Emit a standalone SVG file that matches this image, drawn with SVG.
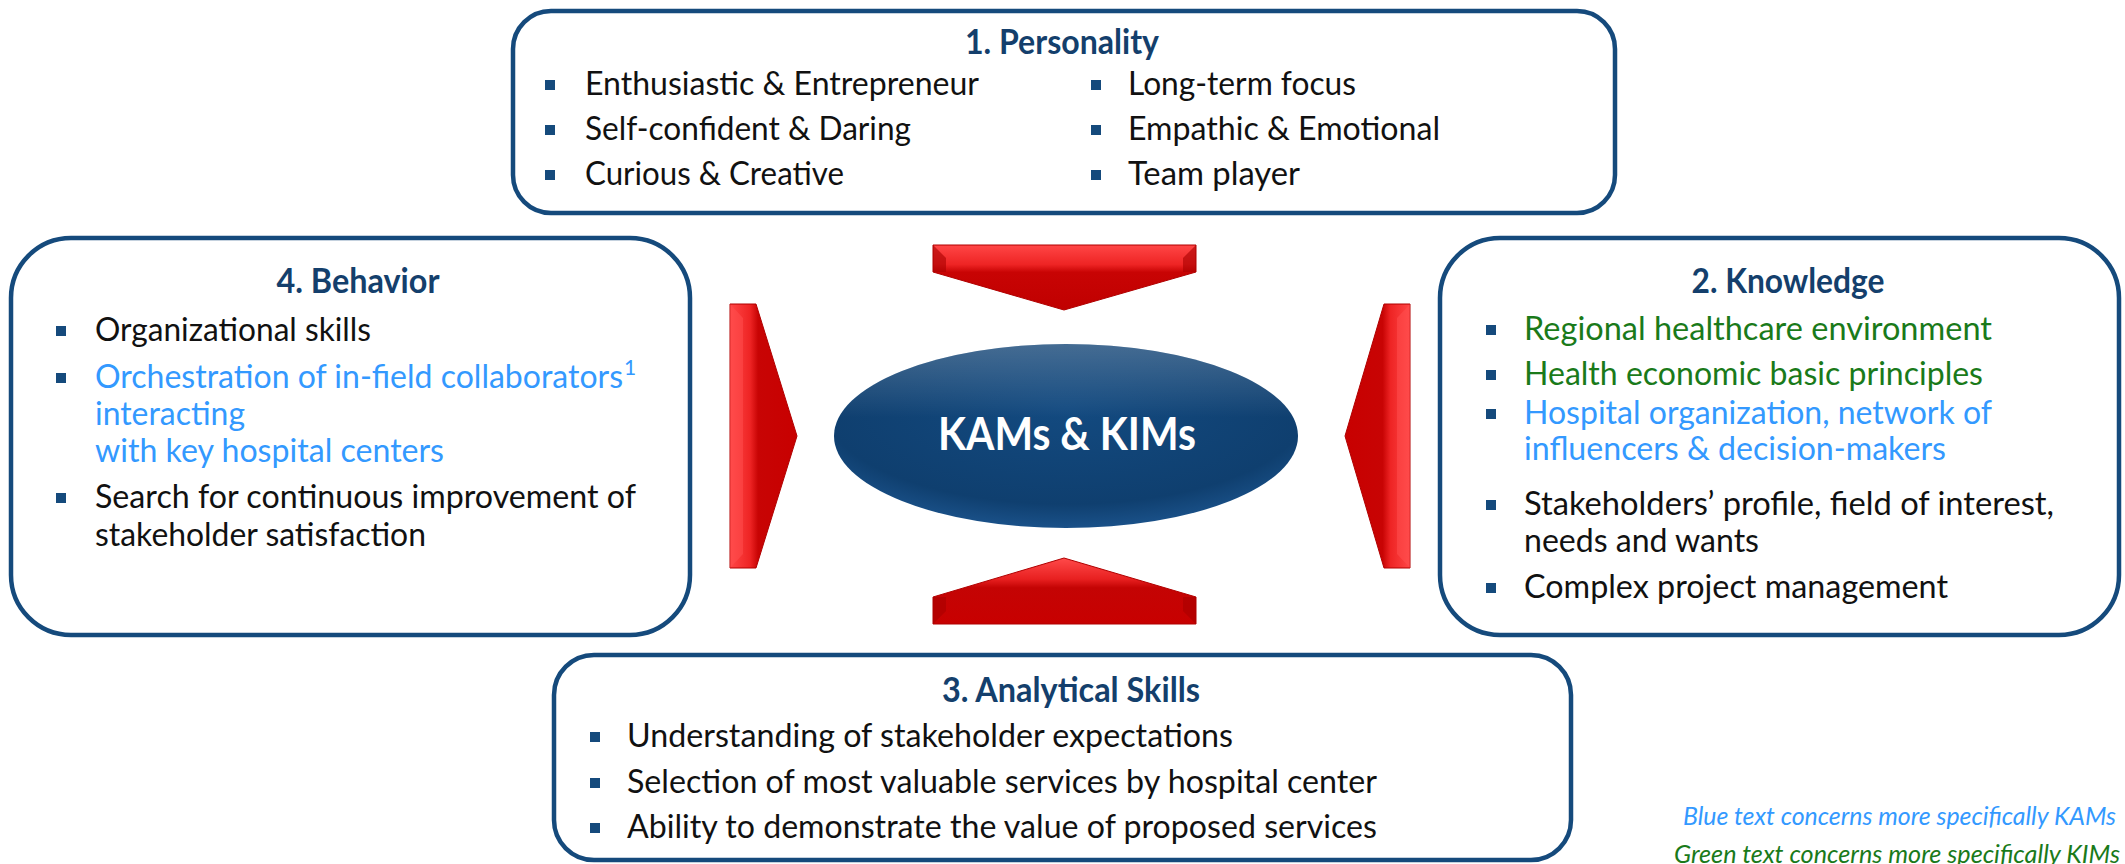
<svg xmlns="http://www.w3.org/2000/svg" width="2125" height="864" viewBox="0 0 2125 864">
<style>
.box{fill:#ffffff;stroke:#154A7C;stroke-width:4.5}
.title{font-family:Lato,"Liberation Sans",sans-serif;font-weight:bold;font-size:34px;fill:#143F6C;text-anchor:middle}
.t{font-family:Lato,"Liberation Sans",sans-serif;font-size:32px;fill:#111111}
.blue{fill:#3399FF}
.green{fill:#1A7A1A}
.bul{fill:#154A7C}
.sup{font-family:Lato,"Liberation Sans",sans-serif;font-size:21px;fill:#3399FF}
.note{font-family:Lato,"Liberation Sans",sans-serif;font-style:italic;font-size:25px}
.center{font-family:Lato,"Liberation Sans",sans-serif;font-weight:bold;font-size:45px;fill:#ffffff;text-anchor:middle}
</style>
<defs>
<linearGradient id="gDown" x1="0" y1="0" x2="0" y2="1">
<stop offset="0" stop-color="#FF4646"/>
<stop offset="0.3" stop-color="#EE2424"/>
<stop offset="0.42" stop-color="#C80404"/>
<stop offset="1" stop-color="#C00000"/>
</linearGradient>
<linearGradient id="gUp" x1="0" y1="1" x2="0" y2="0">
<stop offset="0" stop-color="#C80000"/>
<stop offset="0.55" stop-color="#C40404"/>
<stop offset="0.68" stop-color="#E82020"/>
<stop offset="1" stop-color="#FF4A4A"/>
</linearGradient>
<linearGradient id="gRight" x1="0" y1="0" x2="1" y2="0">
<stop offset="0" stop-color="#FF4646"/>
<stop offset="0.3" stop-color="#EE2424"/>
<stop offset="0.42" stop-color="#C80404"/>
<stop offset="1" stop-color="#C80000"/>
</linearGradient>
<linearGradient id="gLeft" x1="1" y1="0" x2="0" y2="0">
<stop offset="0" stop-color="#FF4646"/>
<stop offset="0.3" stop-color="#EE2424"/>
<stop offset="0.42" stop-color="#C80404"/>
<stop offset="1" stop-color="#C80000"/>
</linearGradient>
<radialGradient id="gEll" cx="0.5" cy="0.35" r="0.65">
<stop offset="0" stop-color="#134A80"/>
<stop offset="0.8" stop-color="#0F3F6F"/>
<stop offset="1" stop-color="#1A5189"/>
</radialGradient>
<linearGradient id="gShine" x1="0" y1="0" x2="0" y2="1">
<stop offset="0" stop-color="#ffffff" stop-opacity="0.22"/>
<stop offset="0.4" stop-color="#ffffff" stop-opacity="0"/>
</linearGradient>
</defs>

<g id="connectors">
<g id="arrow-top">
<polygon points="933,245 1196,245 1196,272 1064,310 933,272" fill="url(#gDown)" stroke="#B00000" stroke-width="1"/>
<polygon points="933,245 946,258 946,272 933,272" fill="#A80000" opacity="0.6"/>
<polygon points="1196,245 1183,258 1183,272 1196,272" fill="#A80000" opacity="0.6"/>
</g>
<g id="arrow-bottom">
<polygon points="1064,558 1196,597 1196,624 933,624 933,597" fill="url(#gUp)" stroke="#B00000" stroke-width="1"/>
<polygon points="933,624 946,611 946,597 933,597" fill="#A80000" opacity="0.6"/>
<polygon points="1196,624 1183,611 1183,597 1196,597" fill="#A80000" opacity="0.6"/>
</g>
<g id="arrow-left">
<polygon points="730,304 756,304 797,436 756,568 730,568" fill="url(#gRight)" stroke="#B00000" stroke-width="1"/>
<polygon points="730,304 743,318 743,554 730,568" fill="#FF5050" opacity="0.5"/>
</g>
<g id="arrow-right">
<polygon points="1410,304 1384,304 1345,436 1384,568 1410,568" fill="url(#gLeft)" stroke="#B00000" stroke-width="1"/>
<polygon points="1410,304 1397,318 1397,554 1410,568" fill="#FF5050" opacity="0.5"/>
</g>
</g>

<g id="node-center">
<ellipse cx="1066" cy="436" rx="232" ry="92" fill="url(#gEll)"/>
<ellipse cx="1066" cy="436" rx="232" ry="92" fill="url(#gShine)"/>
<text class="center" x="1067" y="450" textLength="258" lengthAdjust="spacingAndGlyphs">KAMs &amp; KIMs</text>
</g>

<g id="node-personality">
<rect class="box" x="513" y="11" width="1102" height="202" rx="38"/>
<text class="title" x="1062" y="54" textLength="194" lengthAdjust="spacingAndGlyphs">1. Personality</text>
<rect class="bul" x="545" y="80" width="10" height="10"/>
<text class="t" x="585" y="95" textLength="394" lengthAdjust="spacingAndGlyphs">Enthusiastic &amp; Entrepreneur</text>
<rect class="bul" x="545" y="125" width="10" height="10"/>
<text class="t" x="585" y="140" textLength="326" lengthAdjust="spacingAndGlyphs">Self-confident &amp; Daring</text>
<rect class="bul" x="545" y="170" width="10" height="10"/>
<text class="t" x="585" y="185" textLength="259" lengthAdjust="spacingAndGlyphs">Curious &amp; Creative</text>
<rect class="bul" x="1091" y="80" width="10" height="10"/>
<text class="t" x="1128" y="95" textLength="228" lengthAdjust="spacingAndGlyphs">Long-term focus</text>
<rect class="bul" x="1091" y="125" width="10" height="10"/>
<text class="t" x="1128" y="140" textLength="312" lengthAdjust="spacingAndGlyphs">Empathic &amp; Emotional</text>
<rect class="bul" x="1091" y="170" width="10" height="10"/>
<text class="t" x="1128" y="185" textLength="172" lengthAdjust="spacingAndGlyphs">Team player</text>
</g>

<g id="node-behavior">
<rect class="box" x="11" y="238" width="679" height="397" rx="60"/>
<text class="title" x="358" y="293" textLength="163" lengthAdjust="spacingAndGlyphs">4. Behavior</text>
<rect class="bul" x="56" y="326" width="10" height="10"/>
<text class="t" x="95" y="341" textLength="276" lengthAdjust="spacingAndGlyphs">Organizational skills</text>
<rect class="bul" x="56" y="373" width="10" height="10"/>
<text class="t blue" x="95" y="388" textLength="528" lengthAdjust="spacingAndGlyphs">Orchestration of in-field collaborators</text>
<text class="sup" x="624" y="375">1</text>
<text class="t blue" x="95" y="425" textLength="150" lengthAdjust="spacingAndGlyphs">interacting</text>
<text class="t blue" x="95" y="462" textLength="349" lengthAdjust="spacingAndGlyphs">with key hospital centers</text>
<rect class="bul" x="56" y="493" width="10" height="10"/>
<text class="t" x="95" y="508" textLength="541" lengthAdjust="spacingAndGlyphs">Search for continuous improvement of</text>
<text class="t" x="95" y="546" textLength="331" lengthAdjust="spacingAndGlyphs">stakeholder satisfaction</text>
</g>

<g id="node-knowledge">
<rect class="box" x="1440" y="238" width="679" height="397" rx="60"/>
<text class="title" x="1788" y="293" textLength="193" lengthAdjust="spacingAndGlyphs">2. Knowledge</text>
<rect class="bul" x="1486" y="325" width="10" height="10"/>
<text class="t green" x="1524" y="340" textLength="468" lengthAdjust="spacingAndGlyphs">Regional healthcare environment</text>
<rect class="bul" x="1486" y="370" width="10" height="10"/>
<text class="t green" x="1524" y="385" textLength="459" lengthAdjust="spacingAndGlyphs">Health economic basic principles</text>
<rect class="bul" x="1486" y="409" width="10" height="10"/>
<text class="t blue" x="1524" y="424" textLength="468" lengthAdjust="spacingAndGlyphs">Hospital organization, network of</text>
<text class="t blue" x="1524" y="460" textLength="422" lengthAdjust="spacingAndGlyphs">influencers &amp; decision-makers</text>
<rect class="bul" x="1486" y="500" width="10" height="10"/>
<text class="t" x="1524" y="515" textLength="530" lengthAdjust="spacingAndGlyphs">Stakeholders’ profile, field of interest,</text>
<text class="t" x="1524" y="552" textLength="235" lengthAdjust="spacingAndGlyphs">needs and wants</text>
<rect class="bul" x="1486" y="583" width="10" height="10"/>
<text class="t" x="1524" y="598" textLength="424" lengthAdjust="spacingAndGlyphs">Complex project management</text>
</g>

<g id="node-analytical">
<rect class="box" x="554" y="655" width="1017" height="205" rx="40"/>
<text class="title" x="1071" y="702" textLength="258" lengthAdjust="spacingAndGlyphs">3. Analytical Skills</text>
<rect class="bul" x="590" y="732" width="10" height="10"/>
<text class="t" x="627" y="747" textLength="606" lengthAdjust="spacingAndGlyphs">Understanding of stakeholder expectations</text>
<rect class="bul" x="590" y="778" width="10" height="10"/>
<text class="t" x="627" y="793" textLength="750" lengthAdjust="spacingAndGlyphs">Selection of most valuable services by hospital center</text>
<rect class="bul" x="590" y="823" width="10" height="10"/>
<text class="t" x="627" y="838" textLength="750" lengthAdjust="spacingAndGlyphs">Ability to demonstrate the value of proposed services</text>
</g>

<g id="legend">
<text class="note" x="1683" y="825" fill="#3399FF" textLength="433" lengthAdjust="spacingAndGlyphs">Blue text concerns more specifically KAMs</text>
<text class="note" x="1674" y="863" fill="#1A7A1A" textLength="446" lengthAdjust="spacingAndGlyphs">Green text concerns more specifically KIMs</text>
</g>
</svg>
